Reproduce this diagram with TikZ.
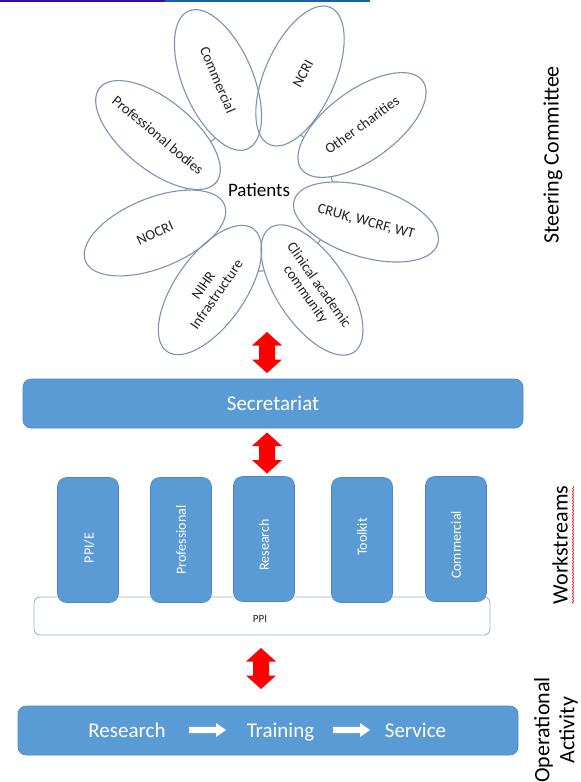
\documentclass[tikz,border=0pt]{standalone}
\usepackage{fontspec}
\setmainfont{Carlito}
\usetikzlibrary{shapes.geometric,decorations.pathmorphing}
\definecolor{petalline}{HTML}{7F93AE}
\definecolor{labelgray}{HTML}{222222}
\definecolor{boxblue}{HTML}{5B9BD5}
\definecolor{boxedge}{HTML}{4A88C4}
\definecolor{ppiedge}{HTML}{A3B3C7}
\definecolor{topviolet}{HTML}{3A0CA8}
\definecolor{topblue}{HTML}{1464A5}
\definecolor{arrowred}{HTML}{FF0000}
\begin{document}
\begin{tikzpicture}[x=1pt,y=1pt,
  petalshape/.style={ellipse, minimum width=150pt, minimum height=70pt, inner sep=0pt},
  petalbg/.style={petalshape, fill=white},
  petal/.style={petalshape, draw=petalline, line width=1.1pt},
  petaltext/.style={text=labelgray, align=center, inner sep=0pt, font=\fontsize{14.5}{16}\selectfont},
  bluebox/.style={rectangle, rounded corners=8pt, fill=boxblue, draw=boxedge, line width=0.6pt, text=white, inner sep=0pt},
  wsbox/.style={bluebox, minimum width=61pt, minimum height=125pt, rounded corners=9pt},
  wstext/.style={rotate=90, text=white, inner sep=0pt, font=\fontsize{14}{16}\selectfont},
  optext/.style={text=white, inner sep=0pt, anchor=base, font=\fontsize{21}{24}\selectfont},
  redarrow/.style={fill=arrowred},
  whitearrow/.style={fill=white},
  sidetext/.style={rotate=90, text=black, align=center, inner sep=0pt, font=\fontsize{22}{25}\selectfont}
]
\useasboundingbox (0,0) rectangle (581,-782);
\fill[white] (0,0) rectangle (581,-782);

% top rule
\draw[topviolet, line width=2pt] (0,-1) -- (165,-1);
\draw[topblue, line width=2pt] (165,-1) -- (370,-1);

% central circle (Patients)
\node[circle, draw=petalline, line width=1.1pt, minimum size=148pt, inner sep=0pt] (patients) at (260,-197) {};

% petals: white fill first, then outlines, then labels
\foreach \n/\x/\y/\r in {comm/218/80/-67, ncri/300/76/66, other/362/125/36, cruk/366/222/-17,
                         clin/312/290/-56, nihr/210/290/55, nocri/155/233/22, prof/158/135/-39}
  \node[petalbg, rotate=\r] (\n-bg) at (\x,-\y) {};
\foreach \n/\x/\y/\r in {comm/218/80/-67, ncri/300/76/66, other/362/125/36, cruk/366/222/-17,
                         clin/312/290/-56, nihr/210/290/55, nocri/155/233/22, prof/158/135/-39}
  \node[petal, rotate=\r] (\n) at (\x,-\y) {};

\node[petaltext, rotate=-67] (commt) at (comm.center) {Commercial};
\node[petaltext, rotate=62] (ncrit) at ([xshift=3pt,yshift=2pt]ncri.center) {NCRI};
\node[petaltext, rotate=36] (othert) at (other.center) {Other charities};
\node[petaltext, rotate=-15] (crukt) at (cruk.center) {CRUK, WCRF, WT};
\node[petaltext, rotate=-55] (clint) at (clin.center) {Clinical academic\\community};
\node[petaltext, rotate=55] (nihrt) at (nihr.center) {NIHR\\Infrastructure};
\node[petaltext, rotate=24] (nocrit) at (nocri.center) {NOCRI};
\node[petaltext, rotate=-40] (proft) at (prof.center) {Professional bodies};

\node[text=black, inner sep=0pt, font=\fontsize{19}{21}\selectfont] (patientst) at (259,-190) {Patients};

% Secretariat
\node[bluebox, minimum width=500pt, minimum height=49pt, font=\fontsize{21}{24}\selectfont] (secr) at (273,-403.5) {Secretariat};

% red double arrows (block arrows centred on named coordinates)
\coordinate (arr1) at (267,-352.5);
\coordinate (arr2) at (267,-453);
\coordinate (arr3) at (261,-668.5);
\foreach \a in {arr1,arr2,arr3}
  \fill[redarrow, shift={(\a)}] (0,20.5) -- (15,7) -- (8,7) -- (8,-7) -- (15,-7) -- (0,-20.5)
        -- (-15,-7) -- (-8,-7) -- (-8,7) -- (-15,7) -- cycle;

% PPI box and workstreams
\node[rectangle, rounded corners=6pt, fill=white, draw=ppiedge, line width=0.9pt, minimum width=456pt, minimum height=38pt, inner sep=0pt] (ppi) at (262,-616) {};
\node[text=labelgray, inner sep=0pt, font=\fontsize{11}{13}\selectfont] (ppit) at (260,-619) {PPI};

\node[wsbox] (ws1) at (88,-540) {};
\node[wsbox] (ws2) at (181,-540) {};
\node[wsbox] (ws3) at (264,-539) {};
\node[wsbox] (ws4) at (362,-540) {};
\node[wsbox] (ws5) at (456,-539) {};
\node[wstext] (ws1t) at (89,-548) {PPI/E};
\node[wstext] (ws2t) at (181,-540) {Professional};
\node[wstext] (ws3t) at (264,-545) {Research};
\node[wstext] (ws4t) at (362,-537) {Toolkit};
\node[wstext] (ws5t) at (456,-545) {Commercial};

% Operational activity
\node[bluebox, minimum width=500pt, minimum height=49pt] (oper) at (268,-730.5) {};
\node[optext] (op1) at (127,-737) {Research};
\node[optext] (op2) at (280.5,-737) {Training};
\node[optext] (op3) at (415.5,-737) {Service};
\coordinate (wa1) at (189,-730);
\coordinate (wa2) at (333,-730);
\foreach \a in {wa1,wa2}
  \fill[whitearrow, shift={(\a)}] (0,3.2) -- (27,3.2) -- (27,7) -- (37,0) -- (27,-7) -- (27,-3.2) -- (0,-3.2) -- cycle;

% side labels
\node[sidetext] (steer) at (553,-155) {Steering Committee};
\node[sidetext] (work) at (560,-545) {Workstreams};
\draw[red, line width=0.5pt, decorate, decoration={snake, amplitude=0.8pt, segment length=3pt}] (573,-486) -- (573,-604);
\node[sidetext] (opact) at (556,-730) {Operational\\Activity};
\end{tikzpicture}
\end{document}
